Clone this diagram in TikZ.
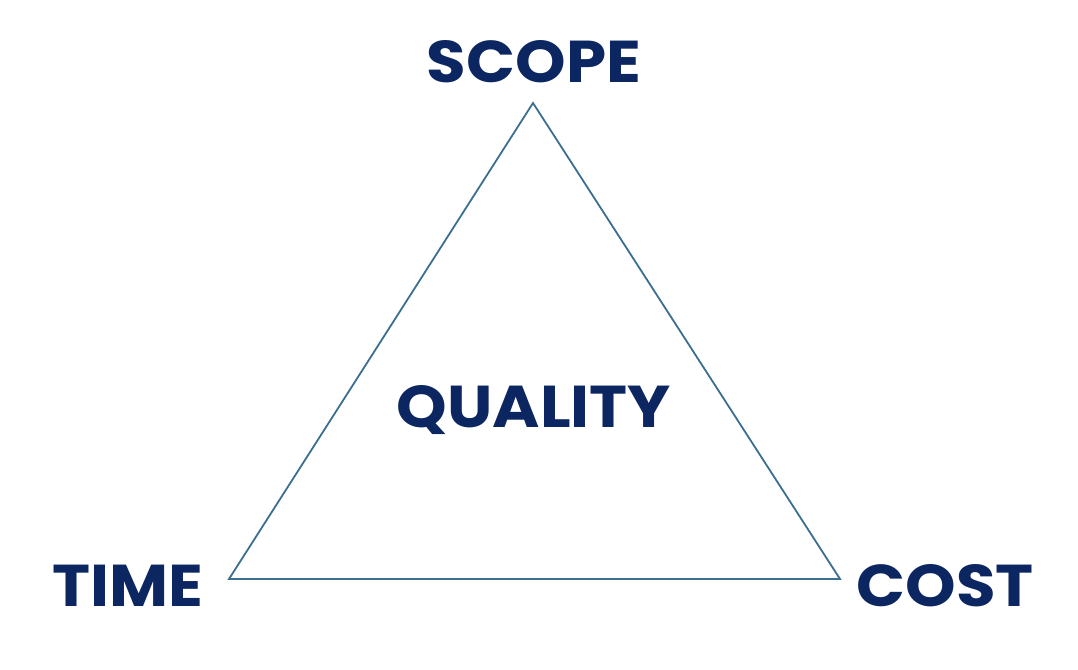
\documentclass[tikz,border=0pt]{standalone}
\usepackage{fontspec}
\newfontfamily\labelfont{Poppins Bold}[FakeStretch=1.09]
\usepackage{tikz}
\usetikzlibrary{positioning}
\definecolor{navy}{HTML}{0B2660}
\definecolor{edgeblue}{HTML}{3C6E8F}

\begin{document}
\begin{tikzpicture}[x=1pt,y=-1pt,
        label/.style={text=navy,font=\labelfont\fontsize{59}{64}\selectfont,inner sep=0pt,anchor=base}]

        \useasboundingbox (0,0) rectangle (1078,669);

        \coordinate (top) at (533,103);
        \coordinate (left) at (229,579);
        \coordinate (right) at (840,579);

        \draw[edgeblue,line width=1.8pt,line join=miter] (top) -- (left) -- (right) -- cycle;

        \node[label] (scope) at (534,82) {SCOPE};
        \node[label] (quality) at (534,427) {QUALITY};
        \node[label] (time) at (128,606) {TIME};
        \node[label] (cost) at (945,606) {COST};
    \end{tikzpicture}
\end{document}
